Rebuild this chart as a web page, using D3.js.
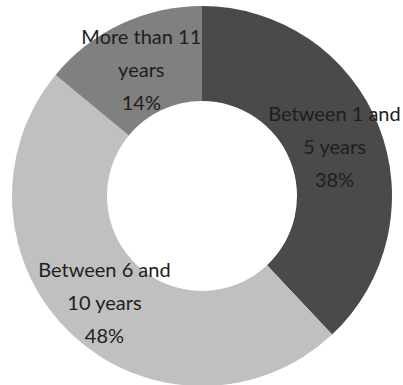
<!DOCTYPE html>
<html>
<head>
<meta charset="utf-8">
<script src="https://cdn.jsdelivr.net/npm/d3@7"></script>
<style>
  html, body { margin: 0; padding: 0; background: #fff; }
  svg { display: block; }
</style>
</head>
<body>
<svg id="chart" width="403" height="385"></svg>
<script>
// Share of respondents by years of experience
const categories = ["Between 1 and 5 years", "Between 6 and 10 years", "More than 11 years"];
const labelLines = [["Between 1 and", "5 years"], ["Between 6 and", "10 years"], ["More than 11", "years"]];
const values = [38, 48, 14];
const colors = ["#4a4a4a", "#c0c0c0", "#808080"];

const svg = d3.select("#chart");
const cx = 202, cy = 196;
const outerR = 190, innerR = 95;

const g = svg.append("g").attr("transform", `translate(${cx},${cy})`);

const pie = d3.pie().sort(null).value(d => d.value);
const arc = d3.arc().innerRadius(innerR).outerRadius(outerR);

const data = categories.map((c, i) => ({ name: c, value: values[i], lines: labelLines[i], color: colors[i] }));
const arcs = pie(data);

g.selectAll("path.slice")
  .data(arcs)
  .join("path")
  .attr("class", "slice")
  .attr("d", arc)
  .attr("fill", d => d.data.color);

const lineH = 33;
const labels = g.selectAll("text.label")
  .data(arcs)
  .join("text")
  .attr("class", "label")
  .attr("transform", d => {
    const [x, y] = arc.centroid(d);
    return `translate(${x},${y + 2})`;
  })
  .attr("text-anchor", "middle")
  .attr("font-family", "Lato, 'Open Sans', sans-serif")
  .attr("font-size", 20)
  .attr("fill", "#1e1e1e");

labels.each(function(d) {
  const t = d3.select(this);
  const rows = [...d.data.lines, d.data.value + "%"];
  rows.forEach((r, i) => {
    t.append("tspan")
      .attr("x", 0)
      .attr("y", (i - 1) * lineH)
      .attr("dominant-baseline", "central")
      .text(r);
  });
});
</script>
</body>
</html>
